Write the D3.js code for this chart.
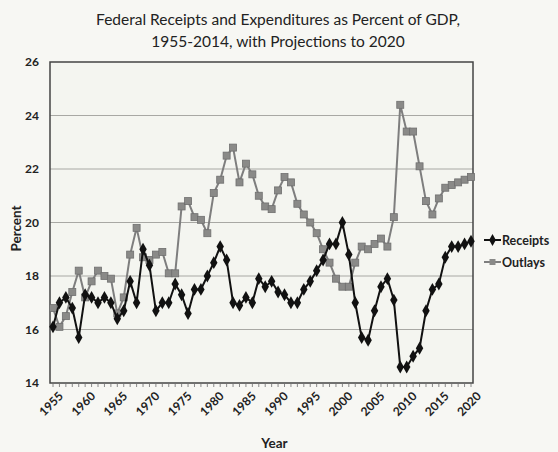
<!DOCTYPE html>
<html>
<head>
<meta charset="utf-8">
<script src="https://cdn.jsdelivr.net/npm/d3@7"></script>
<style>
  body { margin: 0; background: #f7f7f3; }
  svg { display: block; font-family: "Lato", "Open Sans", sans-serif; }
</style>
</head>
<body>
<div id="chart"></div>
<script>
// years 1955..2020
const years = d3.range(1955, 2021);

const receipts = [
  16.1, 17.0, 17.2, 16.8, 15.7, 17.3, 17.2, 17.0, 17.2, 17.0,
  16.4, 16.7, 17.8, 17.0, 19.0, 18.4, 16.7, 17.0, 17.0, 17.7,
  17.3, 16.6, 17.5, 17.5, 18.0, 18.5, 19.1, 18.6, 17.0, 16.9,
  17.2, 17.0, 17.9, 17.6, 17.8, 17.4, 17.3, 17.0, 17.0, 17.5,
  17.8, 18.2, 18.6, 19.2, 19.2, 20.0, 18.8, 17.0, 15.7, 15.6,
  16.7, 17.6, 17.9, 17.1, 14.6, 14.6, 15.0, 15.3, 16.7, 17.5,
  17.7, 18.7, 19.1, 19.1, 19.2, 19.3
];

const outlays = [
  16.8, 16.1, 16.5, 17.4, 18.2, 17.2, 17.8, 18.2, 18.0, 17.9,
  16.6, 17.2, 18.8, 19.8, 18.7, 18.6, 18.8, 18.9, 18.1, 18.1,
  20.6, 20.8, 20.2, 20.1, 19.6, 21.1, 21.6, 22.5, 22.8, 21.5,
  22.2, 21.8, 21.0, 20.6, 20.5, 21.2, 21.7, 21.5, 20.7, 20.3,
  20.0, 19.6, 19.0, 18.5, 17.9, 17.6, 17.6, 18.5, 19.1, 19.0,
  19.2, 19.4, 19.1, 20.2, 24.4, 23.4, 23.4, 22.1, 20.8, 20.3,
  20.9, 21.3, 21.4, 21.5, 21.6, 21.7
];

const yTicks = [14, 16, 18, 20, 22, 24, 26];
const xLabels = d3.range(1955, 2021, 5);

const W = 558, H = 452;
const margin = { top: 62, right: 85, bottom: 69, left: 50 },
    width = W - margin.left - margin.right,
    height = H - margin.top - margin.bottom;

const svg = d3.select("#chart").append("svg")
    .attr("width", W)
    .attr("height", H);

// title
const title = svg.append("text")
    .attr("x", 278)
    .attr("y", 25)
    .style("text-anchor", "middle")
    .style("font-size", "15.5px")
    .style("fill", "#222");
title.append("tspan").attr("x", 278).text("Federal Receipts and Expenditures as Percent of GDP,");
title.append("tspan").attr("x", 278).attr("dy", 22).text("1955-2014,  with Projections to 2020");

const g = svg.append("g")
    .attr("transform", `translate(${margin.left},${margin.top})`);

const x = d3.scaleLinear().domain([1955, 2020]).range([3, width - 2]);
const y = d3.scaleLinear().domain([14, 26]).range([height, 0]);

// plot background
g.append("rect")
    .attr("width", width)
    .attr("height", height)
    .style("fill", "#f4f5f0");

// gridlines
g.append("g")
    .selectAll("line")
    .data(yTicks.slice(1, -1))
    .enter().append("line")
    .attr("x1", 0)
    .attr("x2", width)
    .attr("y1", d => y(d))
    .attr("y2", d => y(d))
    .style("stroke", "#a8a8a4")
    .style("stroke-width", 1);

// border
g.append("rect")
    .attr("width", width)
    .attr("height", height)
    .style("fill", "none")
    .style("stroke", "#444")
    .style("stroke-width", 1.5);

// y axis labels
g.append("g")
    .selectAll("text")
    .data(yTicks)
    .enter().append("text")
    .attr("x", -11)
    .attr("y", d => y(d) + 4)
    .style("text-anchor", "end")
    .style("font-size", "12px")
    .style("font-weight", "bold")
    .style("fill", "#222")
    .text(d => d);

// x axis: minor ticks every year
const xAxis = g.append("g")
    .attr("transform", `translate(0,${height})`);

xAxis.selectAll("line")
    .data(years)
    .enter().append("line")
    .attr("x1", d => x(d))
    .attr("x2", d => x(d))
    .attr("y1", 1)
    .attr("y2", 4)
    .style("stroke", "#888");

xAxis.selectAll("text")
    .data(xLabels)
    .enter().append("text")
    .attr("transform", d => `translate(${x(d) + 5},${8}) rotate(-45)`)
    .style("text-anchor", "end")
    .attr("dy", "0.7em")
    .style("font-size", "12px")
    .style("font-weight", "bold")
    .style("fill", "#222")
    .text(d => d);

// axis titles
svg.append("text")
    .attr("x", margin.left + width / 2 + 13)
    .attr("y", 448)
    .style("text-anchor", "middle")
    .style("font-size", "13.5px")
    .style("font-weight", "bold")
    .style("fill", "#222")
    .text("Year");

svg.append("text")
    .attr("transform", `translate(21,${margin.top + height / 2 + 6}) rotate(-90)`)
    .style("text-anchor", "middle")
    .style("font-size", "13.5px")
    .style("font-weight", "bold")
    .style("fill", "#222")
    .text("Percent");

const line = d3.line()
    .x((d, i) => x(years[i]))
    .y(d => y(d));

// outlays series
g.append("path")
    .datum(outlays)
    .attr("d", line)
    .style("fill", "none")
    .style("stroke", "#7e7e7e")
    .style("stroke-width", 2);

g.selectAll(".sq")
    .data(outlays)
    .enter().append("rect")
    .attr("class", "sq")
    .attr("x", (d, i) => x(years[i]) - 3.5)
    .attr("y", d => y(d) - 3.5)
    .attr("width", 7)
    .attr("height", 7)
    .style("fill", "#8a8a88")
    .style("stroke", "#6f6f6f")
    .style("stroke-width", 0.8);

// receipts series
g.append("path")
    .datum(receipts)
    .attr("d", line)
    .style("fill", "none")
    .style("stroke", "#111")
    .style("stroke-width", 2);

const diamond = d3.symbol().type(d3.symbolDiamond).size(48);
g.selectAll(".dm")
    .data(receipts)
    .enter().append("path")
    .attr("class", "dm")
    .attr("d", diamond)
    .attr("transform", (d, i) => `translate(${x(years[i])},${y(d)})`)
    .style("fill", "#111");

// legend
const legendData = [
    { name: "Receipts", color: "#111", shape: "diamond" },
    { name: "Outlays", color: "#7e7e7e", shape: "square" }
];
const legend = svg.append("g")
    .attr("transform", "translate(484,240)");

const items = legend.selectAll("g")
    .data(legendData)
    .enter().append("g")
    .attr("transform", (d, i) => `translate(0,${i * 22})`);

items.append("line")
    .attr("x1", 0)
    .attr("x2", 17)
    .style("stroke", d => d.color)
    .style("stroke-width", 2);

items.append("path")
    .attr("transform", "translate(8.5,0)")
    .attr("d", d => d.shape === "diamond"
        ? d3.symbol().type(d3.symbolDiamond).size(40)()
        : d3.symbol().type(d3.symbolSquare).size(36)())
    .style("fill", d => d.shape === "diamond" ? "#111" : "#8a8a88");

items.append("text")
    .attr("x", 18)
    .attr("y", 5)
    .style("font-size", "12.5px")
    .style("font-weight", "bold")
    .style("fill", "#222")
    .text(d => d.name);
</script>
</body>
</html>
